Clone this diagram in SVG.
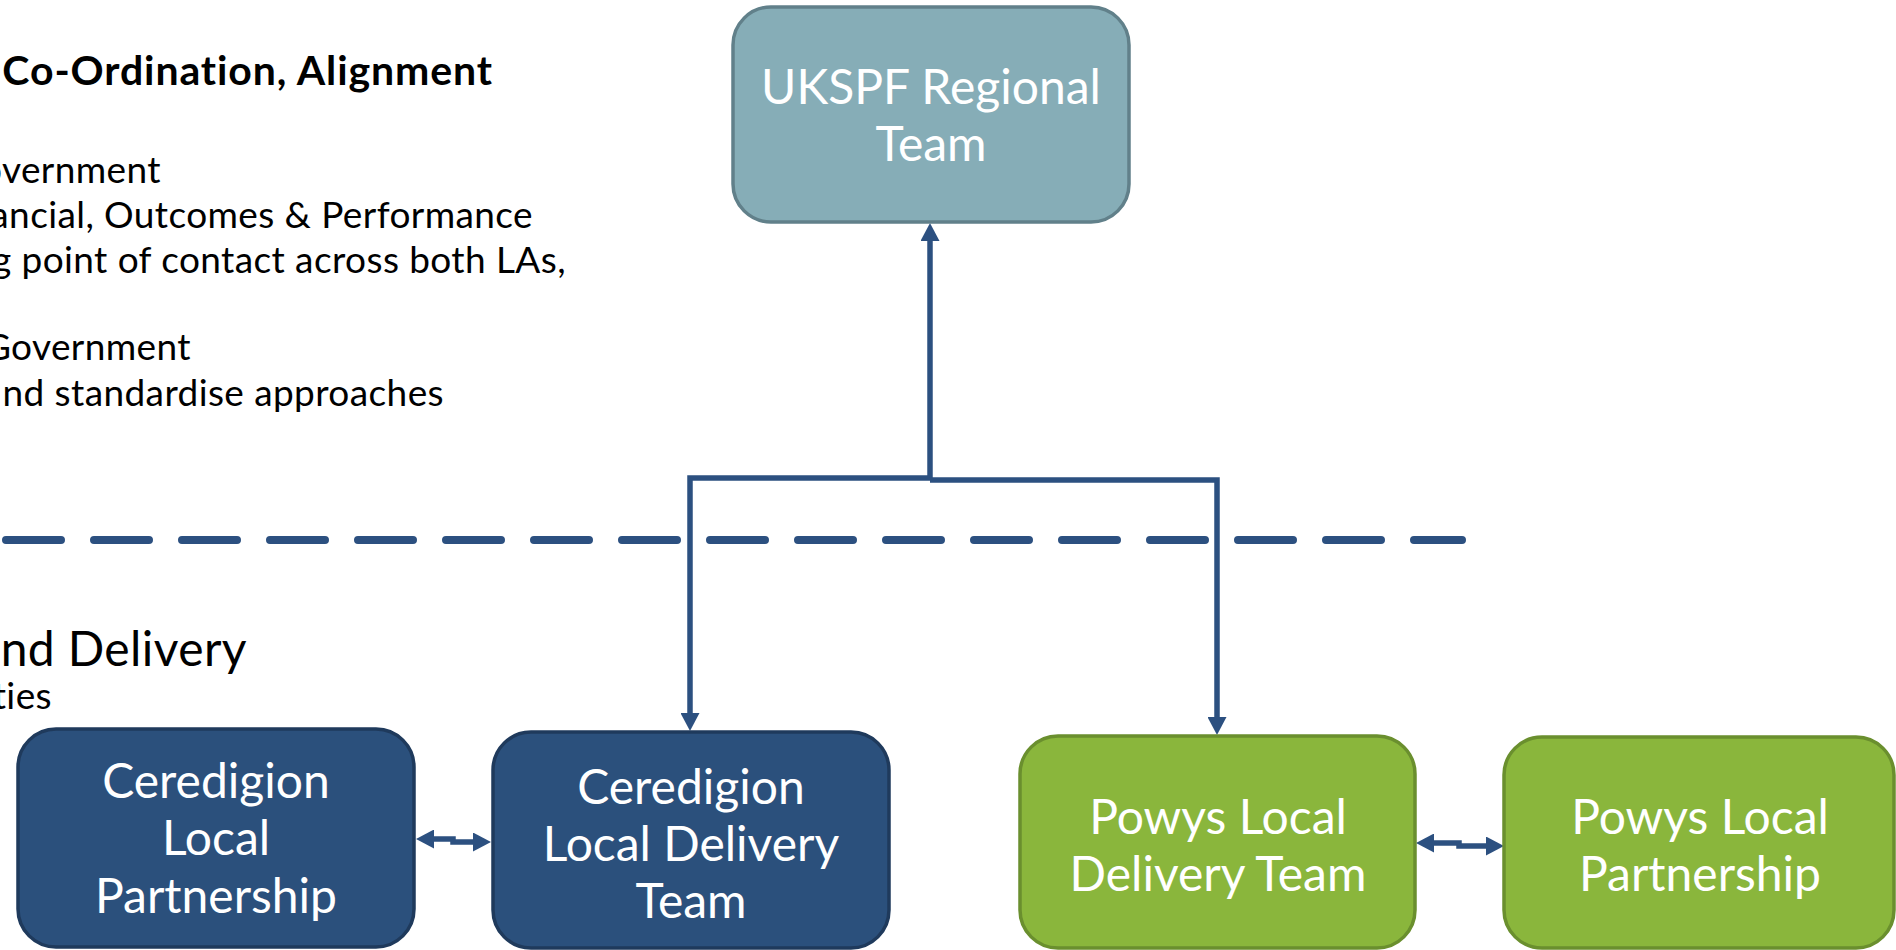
<svg xmlns="http://www.w3.org/2000/svg" width="1896" height="950" viewBox="0 0 1896 950">
<style>
.lbl{font-family:Lato,"Open Sans","Liberation Sans",sans-serif;font-size:48px;fill:#ffffff;text-anchor:middle}
.side{font-family:Lato,"Open Sans","Liberation Sans",sans-serif;fill:#000000;text-anchor:end}
.body{font-size:37px;letter-spacing:0.4px}
.title{font-size:41px;font-weight:bold;letter-spacing:0.9px}
.big{font-size:48px;letter-spacing:0.4px}
.conn{fill:none;stroke:#2c5080;stroke-width:5.5}
.blue{fill:#2b507c;stroke:#1f3a5c;stroke-width:3.5}
.teal{fill:#86adb7;stroke:#61808a;stroke-width:3.5}
.green{fill:#8ab63c;stroke:#6a8f2e;stroke-width:3.5}
</style>
<defs>
<marker id="ah" markerUnits="userSpaceOnUse" markerWidth="18" markerHeight="19" refX="5" refY="9.5" orient="auto-start-reverse">
<path d="M0,0 L18,9.5 L0,19 z" fill="#2c5080"/>
</marker>
</defs>
<rect width="1896" height="950" fill="#ffffff"/>
<g id="side-text">
<text class="side title" x="493" y="85">Co-Ordination, Alignment</text>
<text class="side body" x="161" y="183">overnment</text>
<text class="side body" x="533" y="228">ancial, Outcomes &amp; Performance</text>
<text class="side body" x="566" y="273">g point of contact across both LAs,</text>
<text class="side body" x="191" y="360">Government</text>
<text class="side body" x="444" y="406">nd standardise approaches</text>
<text class="side big" x="247" y="666">and Delivery</text>
<text class="side body" x="52" y="709">ties</text>
</g>
<line id="divider" x1="6" y1="540" x2="1462" y2="540" stroke="#2c5080" stroke-width="8" stroke-linecap="round" stroke-dasharray="55 33"/>
<g id="connectors">
<path class="conn" d="M930,480 L930,236" marker-end="url(#ah)"/>
<path class="conn" d="M930,478 L690,478 L690,718" marker-end="url(#ah)"/>
<path class="conn" d="M930,480 L1217,480 L1217,722" marker-end="url(#ah)"/>
<path class="conn" d="M429,839 L453,839 L453,842 L478,842" marker-start="url(#ah)" marker-end="url(#ah)"/>
<path class="conn" d="M1429,843 L1459,843 L1459,846 L1491,846" marker-start="url(#ah)" marker-end="url(#ah)"/>
</g>
<g id="uksp-regional-team">
<rect class="teal" x="733" y="7" width="396" height="215" rx="38"/>
<text class="lbl" x="931" y="104">UKSPF Regional</text>
<text class="lbl" x="931" y="161">Team</text>
</g>
<g id="ceredigion-local-partnership">
<rect class="blue" x="18" y="729" width="396" height="218" rx="38"/>
<text class="lbl" x="216" y="798">Ceredigion</text>
<text class="lbl" x="216" y="855">Local</text>
<text class="lbl" x="216" y="913">Partnership</text>
</g>
<g id="ceredigion-local-delivery-team">
<rect class="blue" x="493" y="732" width="396" height="216" rx="38"/>
<text class="lbl" x="691" y="804">Ceredigion</text>
<text class="lbl" x="691" y="861">Local Delivery</text>
<text class="lbl" x="691" y="918">Team</text>
</g>
<g id="powys-local-delivery-team">
<rect class="green" x="1020" y="736" width="395" height="212" rx="38"/>
<text class="lbl" x="1218" y="834">Powys Local</text>
<text class="lbl" x="1218" y="891">Delivery Team</text>
</g>
<g id="powys-local-partnership">
<rect class="green" x="1504" y="737" width="390" height="211" rx="38"/>
<text class="lbl" x="1700" y="834">Powys Local</text>
<text class="lbl" x="1700" y="891">Partnership</text>
</g>
</svg>
